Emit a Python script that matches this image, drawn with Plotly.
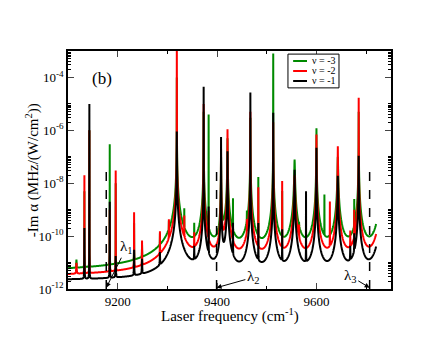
import numpy as np
import plotly.graph_objects as go

# frequency span of the computed curves (cm^-1)
freq_start = 9100
freq_end = 9720

series_names = ['ν = -3', 'ν = -2', 'ν = -1']
series_colors = ['#008a00', '#ff0000', '#000000']

# flat floor of each curve (MHz/(W/cm^2))
background = [4.2e-12, 2.9e-12, 2.1e-12]

# broad resonances shared by all levels: centre, peak height, level 10 cm^-1 off centre
broad_freq = [9319, 9373, 9408, 9421, 9467, 9513, 9556, 9600, 9643, 9685, 9730]
green_broad_peak = [1e-4, 5e-6, 1e-7, 5e-7, 3e-6, 8e-4, 7.8e-8, 1.2e-6, 1e-7, 5e-6, 1e-6]
green_broad_wing = [4.5e-10, 1.75e-10, 3e-11, 1.75e-10, 1.75e-10, 1.75e-10, 1.75e-10, 1.75e-10, 1.75e-10, 1.75e-10, 2.6e-10]
red_broad_peak = [2e-3, 1e-5, 2e-7, 1.1e-6, 5e-6, 2e-6, 2e-8, 7e-7, 2.5e-7, 1.7e-5, 1e-6]
red_broad_wing = [2e-10, 6.5e-11, 1.5e-11, 6.5e-11, 6.5e-11, 6.5e-11, 6.5e-11, 6.5e-11, 6.5e-11, 6.5e-11, 1.1e-10]
black_broad_peak = [9e-7, 4.4e-5, 5.6e-7, 1.6e-7, 2.7e-5, 4.6e-6, 3.2e-8, 2.2e-7, 1.9e-8, 1.1e-7, 1e-6]
black_broad_wing = [6.5e-11, 1.8e-11, 7e-12, 1.8e-11, 1.8e-11, 1.8e-11, 1.8e-11, 1.8e-11, 1.8e-11, 1.8e-11, 3.6e-11]

# narrow lines of each level: centre and peak height
green_line_freq = [9117, 9133, 9143, 9184, 9196, 9233, 9249, 9285, 9303, 9334, 9354, 9383,
                   9432, 9460, 9483, 9531, 9565, 9616, 9676]
green_line_peak = [6.5e-12, 5e-9, 1e-6, 3e-7, 1e-8, 3e-10, 3e-11, 8e-11, 2e-10, 9e-10, 2.2e-10, 4e-6,
                   2.5e-9, 5.5e-10, 1.7e-8, 5e-9, 1e-10, 3.6e-9, 2.3e-9]
red_line_freq = [9117, 9133, 9143, 9184, 9196, 9233, 9249, 9285, 9303, 9334, 9354, 9383,
                 9432, 9460, 9483, 9531, 9565, 9627, 9668, 9676]
red_line_peak = [6e-12, 2e-8, 1e-6, 1e-9, 3e-8, 8e-10, 6e-11, 1.3e-10, 3.5e-10, 5e-10, 1e-10, 8e-10,
                 2e-10, 3e-10, 7e-9, 1.2e-8, 1.8e-10, 2e-9, 1.2e-10, 9e-10]
black_line_freq = [9133, 9143, 9184, 9196, 9233, 9249, 9285, 9354, 9383, 9432, 9483, 9531,
                   9579, 9668, 9676]
black_line_peak = [2e-10, 1e-5, 2e-9, 1.5e-11, 2.7e-11, 1e-11, 1.7e-11, 3e-11, 1.3e-9, 3e-10, 3e-10, 1.7e-10,
                   5e-9, 3e-11, 1e-10]
narrow_wing = 1e-14

# magic wavelengths (dashed markers)
magic_freq = [9177, 9399, 9707]
magic_top = 3.7e-8
magic_labels = ['λ<sub>1</sub>', 'λ<sub>2</sub>', 'λ<sub>3</sub>']
magic_label_pos = [(9218, -10.42), (9473, -11.56), (9668, -11.51)]

y_tick_exp = [-12, -10, -8, -6, -4]

FONT = 'Liberation Serif'


def resonance(freq, centre, peak, wing):
    # Lorentzian: equals `peak` at the centre and `wing` 10 cm^-1 away (far from the core)
    d = np.abs(freq - centre) / 10.0
    return 1.0 / (1.0 / peak + d ** 2 / wing)


all_centres = broad_freq + green_line_freq + red_line_freq + black_line_freq
freq = np.union1d(np.linspace(freq_start, freq_end, 2481),
                  [c for c in all_centres if freq_start <= c <= freq_end])

levels = [
    (green_broad_peak, green_broad_wing, green_line_freq, green_line_peak),
    (red_broad_peak, red_broad_wing, red_line_freq, red_line_peak),
    (black_broad_peak, black_broad_wing, black_line_freq, black_line_peak),
]

fig = go.Figure()
for name, color, bg, (bpk, bwg, lfq, lpk) in zip(series_names, series_colors, background, levels):
    alpha = np.full_like(freq, bg)
    for c, p, w in zip(broad_freq, bpk, bwg):
        alpha += resonance(freq, c, p, w)
    for c, p in zip(lfq, lpk):
        alpha += resonance(freq, c, p, narrow_wing)
    fig.add_trace(go.Scatter(x=freq, y=alpha, mode='lines', name=name,
                             line=dict(color=color, width=2, simplify=False),
                             showlegend=False))

for f in magic_freq:
    fig.add_trace(go.Scatter(x=[f, f], y=[1e-12, magic_top], mode='lines',
                             line=dict(color='black', width=1.5, dash='dash'),
                             showlegend=False))

annotations = []
for f, lab, (lx, ly) in zip(magic_freq, magic_labels, magic_label_pos):
    annotations.append(dict(x=f, y=-11.95, ax=lx, ay=ly, axref='x', ayref='y',
                            text=lab, showarrow=True, arrowhead=2, arrowsize=1,
                            arrowwidth=1, arrowcolor='black', standoff=0,
                            font=dict(family=FONT, size=15, color='black')))
annotations.append(dict(x=9169, y=-4.05, text='(b)', showarrow=False,
                        font=dict(family=FONT, size=17, color='black')))

# axis titles placed by hand
annotations.append(dict(xref='paper', yref='paper', x=0.5, y=-0.113, xanchor='center', yanchor='middle',
                        text='Laser frequency (cm<sup>-1</sup>)', showarrow=False,
                        font=dict(family=FONT, size=15, color='black')))
annotations.append(dict(xref='paper', yref='paper', x=-0.111, y=0.5, xanchor='center', yanchor='middle',
                        textangle=-90, text='-Im α (MHz/(W/cm<sup>2</sup>))', showarrow=False,
                        font=dict(family=FONT, size=15, color='black')))

# hand-drawn legend box in the top right corner
shapes = [dict(type='rect', xref='paper', yref='paper', x0=0.681, x1=0.839, y0=0.845, y1=0.987,
               line=dict(color='black', width=1), fillcolor='white', layer='above')]
legend_y = [0.958, 0.916, 0.874]
for name, color, yy in zip(series_names, series_colors, legend_y):
    shapes.append(dict(type='line', xref='paper', yref='paper', x0=0.697, x1=0.740, y0=yy, y1=yy,
                       line=dict(color=color, width=2), layer='above'))
    annotations.append(dict(xref='paper', yref='paper', x=0.752, y=yy, text=name, showarrow=False,
                            xanchor='left', yanchor='middle', borderpad=0,
                            font=dict(family=FONT, size=10, color='black')))

minor_y = [k * 10.0 ** e for e in range(-12, -3, 2) for k in range(2, 11)]

fig.update_layout(
    width=440, height=340,
    margin=dict(l=68, r=49, t=51, b=51, autoexpand=False),
    paper_bgcolor='white', plot_bgcolor='white',
    font=dict(family=FONT, size=13, color='black'),
    annotations=annotations, shapes=shapes,
    xaxis=dict(range=[9100, 9750], tick0=9200, dtick=200, ticks='inside', ticklen=6,
               mirror='allticks', showline=True, linecolor='black', linewidth=1.5,
               showgrid=False, zeroline=False, automargin=False,
               minor=dict(ticks='inside', dtick=100, tick0=9100, ticklen=3, tickcolor='black')),
    yaxis=dict(type='log', range=[-12, -3], tickmode='array',
               tickvals=[10.0 ** e for e in y_tick_exp],
               ticktext=['10<sup>%d</sup>' % e for e in y_tick_exp],
               ticks='inside', ticklen=6, mirror='allticks', showline=True,
               linecolor='black', linewidth=1.5, showgrid=False, zeroline=False, automargin=False,
               minor=dict(ticks='inside', tickmode='array', tickvals=minor_y, ticklen=3,
                          tickcolor='black')),
)

# the page body has a default 8px margin; drop it so the figure sits at the window corner
fig.write_html('out.html', config={'displayModeBar': False},
               post_script="document.body.style.margin='0';")
